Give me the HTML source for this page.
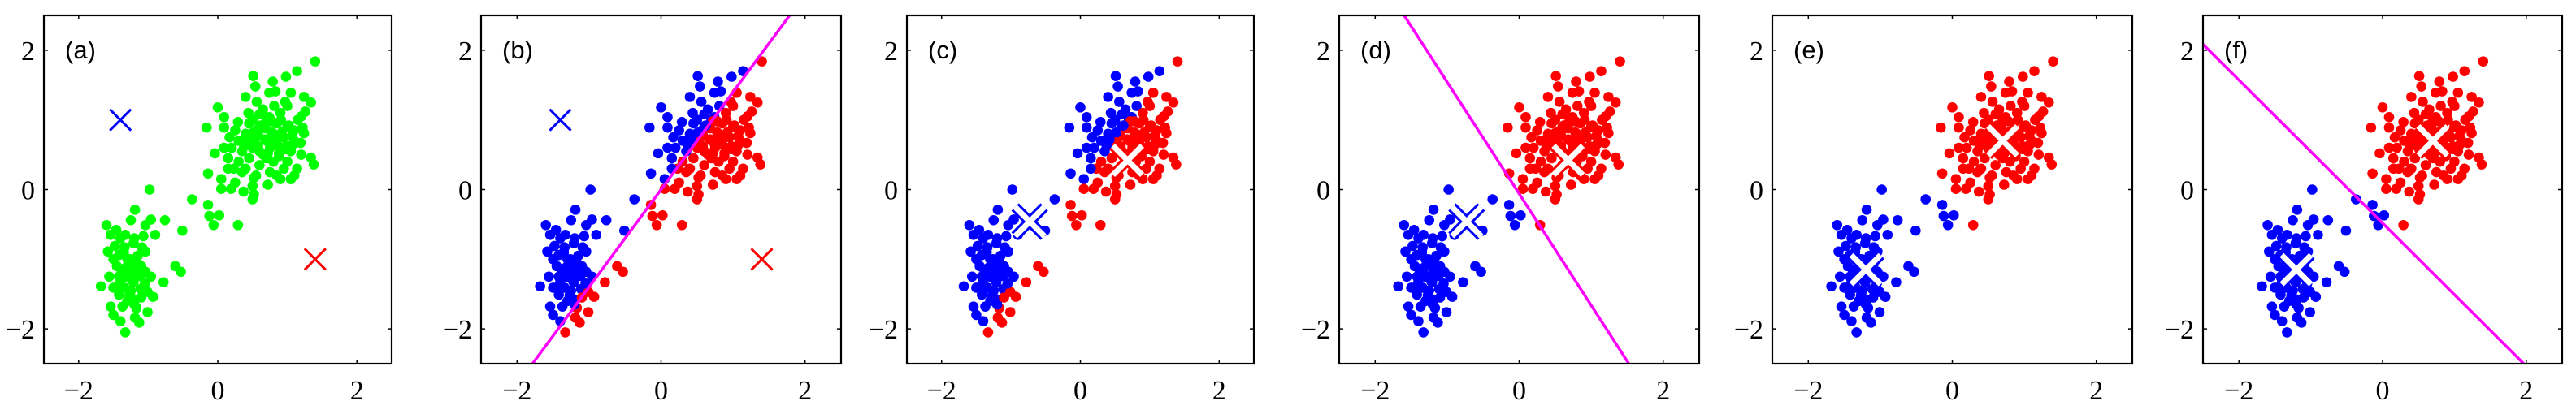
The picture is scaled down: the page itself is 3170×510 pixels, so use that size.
<!DOCTYPE html>
<html><head><meta charset="utf-8"><style>
html,body{margin:0;padding:0;background:#fff;width:3170px;height:510px;overflow:hidden;}
svg{display:block;}
</style></head><body>
<svg id="fig" width="3170" height="510" viewBox="0 0 3170 510" xmlns="http://www.w3.org/2000/svg"></svg>
<script>
// data points (x values and y values)
const ptX = [1.40,1.14,0.51,0.98,0.79,0.54,0.74,1.05,0.83,0.40,1.24,1.34,0.97,0.56,0.81,0.0,1.26,0.44,0.60,0.09,0.74,0.29,0.91,-0.16,0.09,1.22,1.24,0.17,0.50,1.07,1.19,0.09,-0.04,1.34,1.38,1.14,0.23,-0.14,0.52,0.72,1.05,0.90,0.05,0.05,0.19,0.37,0.52,0.50,
-0.37,-0.14,0.02,-0.12,-0.06,0.29,-0.98,
-1.19,-1.25,-0.96,-0.76,-1.60,-1.46,-1.04,-0.51,-1.54,-1.33,-0.90,-1.07,-1.21,-1.48,-1.34,-1.09,-1.58,-1.04,-1.42,-1.26,-1.50,-1.23,-0.61,-0.53,-1.13,-1.04,-1.34,-1.56,-0.96,-1.42,-0.78,-1.68,-1.21,-1.50,-1.34,-1.11,-1.01,-1.42,-1.26,-0.93,-1.19,-1.54,-1.37,-1.17,-1.01,-1.50,-1.19,-1.40,-1.13,-1.33,
0.3,0.4,0.5,0.6,0.7,0.8,0.9,1.0,1.1,0.45,0.55,0.65,0.75,0.85,0.95,1.05,0.35,0.25,0.6,0.8,1.0,0.7,0.9,0.5,0.2,0.4,0.75,1.15,1.2,0.3,0.55,0.85,1.1,0.65,0.45,1.0,0.15,0.95,1.1,0.6,0.35,0.7,0.85,1.2,0.25,0.5,0.15,
-1.3,-1.2,-1.4,-1.1,-1.25,-1.35,-1.15,-1.45,-1.3,-1.2,-1.05,-1.4,-1.2,-1.3,-1.1,
0.58,0.68,0.78,0.88,0.98,0.62,0.72,0.82,0.92,1.02,0.48,0.58,0.68,0.78,0.88,0.98,0.52,0.62,0.72,0.82,0.92,0.38,1.08,0.42,
-1.28,-1.18,-1.38,-1.22,-1.32,-1.12,-1.42,-1.27];
const ptY = [1.84,1.70,1.63,1.62,1.55,1.48,1.39,1.39,1.41,1.33,1.33,1.25,1.26,1.26,1.20,1.18,1.12,1.10,1.08,1.04,1.04,0.97,1.00,0.89,0.89,0.89,0.81,0.75,0.81,0.77,0.67,0.60,0.52,0.46,0.36,0.30,0.30,0.23,0.17,0.07,0.15,0.15,0.15,0.01,0.01,-0.03,-0.07,-0.14,
-0.14,-0.22,-0.37,-0.38,-0.51,-0.51,0.0,
-0.29,-0.44,-0.43,-0.44,-0.51,-0.58,-0.51,-0.59,-0.65,-0.65,-0.65,-0.67,-0.77,-0.81,-0.83,-0.83,-0.89,-0.89,-0.94,-1.0,-1.0,-1.08,-1.10,-1.18,-1.18,-1.18,-1.18,-1.25,-1.25,-1.25,-1.33,-1.39,-1.33,-1.41,-1.41,-1.43,-1.47,-1.51,-1.53,-1.54,-1.58,-1.68,-1.68,-1.70,-1.76,-1.80,-1.84,-1.89,-1.91,-2.05,
0.7,0.8,0.6,0.9,0.7,0.8,0.6,0.9,0.7,0.45,0.75,0.5,0.6,0.95,0.75,0.55,0.55,0.85,0.35,0.4,0.4,1.0,1.1,1.0,0.6,0.3,0.25,1.0,0.5,0.4,0.2,0.2,0.2,1.15,0.95,1.2,0.45,0.3,0.85,0.55,0.25,0.45,0.65,1.05,0.1,0.05,0.3,
-1.0,-1.2,-1.3,-1.1,-1.45,-0.9,-0.95,-1.1,-1.6,-0.7,-1.35,-0.7,-1.65,-1.25,-1.55,
0.62,0.72,0.82,0.52,0.62,0.88,0.98,0.68,0.78,0.92,0.66,0.78,0.88,0.98,0.48,0.58,0.82,0.92,0.52,0.72,0.82,0.62,0.65,0.72,
-1.08,-1.02,-1.18,-1.32,-1.12,-1.24,-1.38,-1.52];
// centroids per stage: [blueX, blueY, redX, redY]
const centInit = [-1.4, 1.0, 1.4, -1.0];
const centStep1 = [-0.73, -0.46, 0.68, 0.42];
const centStep2 = [-1.2, -1.15, 0.7, 0.7];
const panelLabels = ['(a)','(b)','(c)','(d)','(e)','(f)'];
const tickVals = [-2, 0, 2];
const tickText = ['\u22122', '0', '2'];

const boxes = [[54,428],[592,443],[1116,427],[1648,443],[2181,443],[2711,442]];
const TOP = 19, BOT = 448;
const cfg = [
  {assign:null, mark:centInit, big:false, line:null},
  {assign:centInit, mark:centInit, big:false, line:centInit},
  {assign:centInit, mark:centStep1, big:true, line:null},
  {assign:centStep1, mark:centStep1, big:true, line:centStep1},
  {assign:centStep1, mark:centStep2, big:true, line:null},
  {assign:centStep1, mark:centStep2, big:true, line:centStep2}
];
const NS = 'http://www.w3.org/2000/svg';
const svg = document.getElementById('fig');
function mk(tag, attrs, parent){const e=document.createElementNS(NS,tag);for(const k in attrs)e.setAttribute(k,attrs[k]);(parent||svg).appendChild(e);return e;}

cfg.forEach((c, pi) => {
  const L = boxes[pi][0], W = boxes[pi][1], H = BOT - TOP;
  const sx = v => L + (v + 2.5) / 5 * W;
  const sy = v => TOP + (2.5 - v) / 5 * H;
  const g = mk('g', {});
  
  
  const cid = 'clip' + pi;
  const cp = mk('clipPath', {id: cid}, g);
  mk('rect', {x: L, y: TOP, width: W, height: H}, cp);
  const pg = mk('g', {'clip-path': 'url(#' + cid + ')'}, g);
  
  
  for (let i = 0; i < ptX.length; i++) {
    let col = '#00ff00';
    if (c.assign) {
      const a = c.assign;
      const db = (ptX[i]-a[0])**2 + (ptY[i]-a[1])**2;
      const dr = (ptX[i]-a[2])**2 + (ptY[i]-a[3])**2;
      col = db < dr ? '#0000ff' : '#ff0000';
    }
    const p = mk('circle', {cx: sx(ptX[i]), cy: sy(ptY[i]), r: 6.3, fill: col}, pg);
    
    
  }
  if (c.line) {
    const a = c.line;
    const mx = (a[0]+a[2])/2, my = (a[1]+a[3])/2;
    const nx = a[2]-a[0], ny = a[3]-a[1];
    const dx = -ny, dy = nx;
    const t = 20;
    const ln = mk('line', {x1: sx(mx - dx*t), y1: sy(my - dy*t), x2: sx(mx + dx*t), y2: sy(my + dy*t), stroke: '#ff00ff', 'stroke-width': 3.5, 'clip-path': 'url(#' + cid + ')'}, g);
    
    
  }
  [[c.mark[0], c.mark[1], '#0000ff'], [c.mark[2], c.mark[3], '#ff0000']].forEach((m, k) => {
    const cx = sx(m[0]), cy = sy(m[1]);
    const mg = mk('g', {}, g);
    
    
    const s = c.big ? 18 : 13;
    const d = `M${cx-s},${cy-s}L${cx+s},${cy+s}M${cx-s},${cy+s}L${cx+s},${cy-s}`;
    if (c.big) {
      mk('path', {d: d, stroke: m[2], 'stroke-width': 13, fill: 'none'}, mg);
      mk('path', {d: d, stroke: '#ffffff', 'stroke-width': 7, fill: 'none'}, mg);
    } else {
      mk('path', {d: d, stroke: m[2], 'stroke-width': 3, fill: 'none'}, mg);
    }
  });
  const bx = mk('rect', {x: L, y: TOP, width: W, height: H, fill: 'none', stroke: '#000', 'stroke-width': 2.2}, g);
  
  
  tickVals.forEach((v, ti) => {
    const x = sx(v), y = sy(v);
    mk('line', {x1: x, y1: BOT, x2: x, y2: BOT-5, stroke: '#000', 'stroke-width': 1.5}, g);
    mk('line', {x1: x, y1: TOP, x2: x, y2: TOP+5, stroke: '#000', 'stroke-width': 1.5}, g);
    mk('line', {x1: L, y1: y, x2: L+5, y2: y, stroke: '#000', 'stroke-width': 1.5}, g);
    mk('line', {x1: L+W, y1: y, x2: L+W-5, y2: y, stroke: '#000', 'stroke-width': 1.5}, g);
    const xt = mk('text', {x: x, y: 492, 'text-anchor': 'middle', 'font-family': '"Liberation Serif", serif', 'font-size': 34}, g);
    xt.textContent = tickText[ti];
    
    
    const yt = mk('text', {x: L - 11, y: y + 12, 'text-anchor': 'end', 'font-family': '"Liberation Serif", serif', 'font-size': 34}, g);
    yt.textContent = tickText[ti];
    
    
  });
  const lb = mk('text', {x: L + 26, y: 72, 'font-family': '"Liberation Sans", sans-serif', 'font-size': 31}, g);
  lb.textContent = panelLabels[pi];
  
  
});
</script>
</body></html>
